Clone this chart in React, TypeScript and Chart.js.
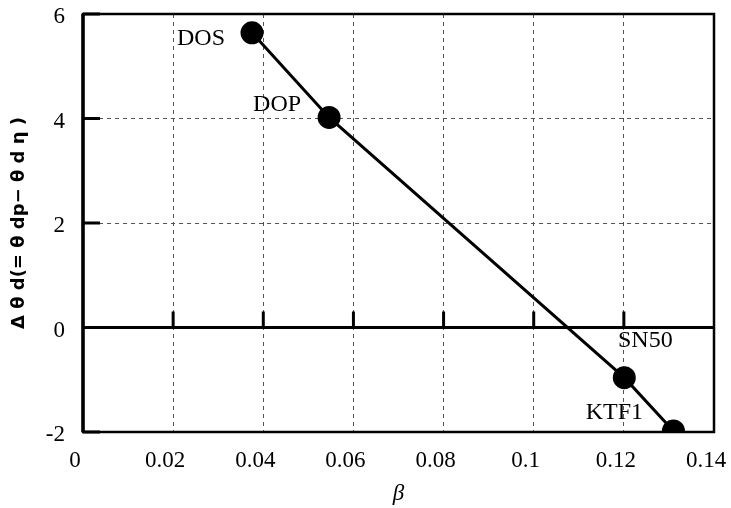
import React, { useEffect, useRef } from "react";
import { Chart, registerables } from "chart.js";

Chart.register(...registerables);

const pointNames = ["DOS", "DOP", "SN50", "KTF1"];
const betaValues = [0.0375, 0.0546, 0.1201, 0.131];
const deltaValues = [5.64, 4.02, -0.96, -1.98];
const xTickValues = [0, 0.02, 0.04, 0.06, 0.08, 0.1, 0.12, 0.14];
const yTickValues = [-2, 0, 2, 4, 6];
const xTitle = "β";
const yTitle = "Δ θ d(= θ dp− θ d η )";

const labelOffsets: Record<string, [number, number]> = {
  DOS: [-51, 6],
  DOP: [-52, -13],
  SN50: [21, -37],
  KTF1: [-59, -18],
};

const framePlugin = {
  id: "frame",
  beforeDatasetsDraw(chart: any) {
    const { ctx, chartArea: a, scales } = chart;
    const xs = scales.x;
    const ys = scales.y;
    ctx.save();
    ctx.strokeStyle = "#000";
    ctx.setLineDash([]);
    const y0 = ys.getPixelForValue(0);
    ctx.lineWidth = 3;
    ctx.beginPath();
    ctx.moveTo(a.left, y0);
    ctx.lineTo(a.right, y0);
    ctx.stroke();
    xTickValues.forEach((v) => {
      if (v <= 0 || v >= 0.14) return;
      const x = xs.getPixelForValue(v);
      ctx.beginPath();
      ctx.moveTo(x, y0);
      ctx.lineTo(x, y0 - 16);
      ctx.stroke();
    });
    yTickValues.forEach((v) => {
      const y = ys.getPixelForValue(v);
      ctx.beginPath();
      ctx.moveTo(a.left, y);
      ctx.lineTo(a.left + 17, y);
      ctx.stroke();
    });
    ctx.lineWidth = 2.5;
    ctx.strokeRect(a.left, a.top, a.right - a.left, a.bottom - a.top);
    ctx.lineWidth = 3.5;
    ctx.beginPath();
    ctx.moveTo(a.left, a.top);
    ctx.lineTo(a.left, a.bottom);
    ctx.stroke();
    ctx.restore();
  },
  afterDatasetsDraw(chart: any) {
    const { ctx, scales } = chart;
    ctx.save();
    ctx.fillStyle = "#000";
    ctx.font = "24px 'Liberation Serif'";
    ctx.textAlign = "center";
    ctx.textBaseline = "middle";
    pointNames.forEach((n, i) => {
      const x = scales.x.getPixelForValue(betaValues[i]);
      const y = scales.y.getPixelForValue(deltaValues[i]);
      const off = labelOffsets[n];
      ctx.fillText(n, x + off[0], y + off[1]);
    });
    ctx.restore();
  },
};

export default function App() {
  const ref = useRef<HTMLCanvasElement>(null);
  useEffect(() => {
    if (!ref.current) return;
    const chart = new Chart(ref.current, {
      type: "scatter",
      data: {
        datasets: [
          {
            data: betaValues.map((b, i) => ({ x: b, y: deltaValues[i] })),
            showLine: true,
            borderColor: "#000",
            backgroundColor: "#000",
            borderWidth: 3,
            pointRadius: 10,
            pointBackgroundColor: "#000",
            pointBorderColor: "#000",
          },
        ],
      },
      options: {
        animation: false,
        responsive: false,
        maintainAspectRatio: false,
        layout: { padding: { left: 0, top: 14, right: 17, bottom: 0 } },
        plugins: { legend: { display: false }, tooltip: { enabled: false } },
        scales: {
          x: {
            type: "linear",
            min: 0,
            max: 0.14,
            afterBuildTicks: (s: any) => {
              s.ticks = xTickValues.map((v) => ({ value: v }));
            },
            afterFit: (s: any) => {
              s.height = 76;
              s.paddingLeft = 0;
              s.paddingRight = 0;
            },
            ticks: {
              color: "#000",
              font: { family: "'Liberation Serif'", size: 23 },
              padding: 15,
              labelOffset: -8,
              maxRotation: 0,
              callback: (v: any) => String(Number(Number(v).toFixed(2))),
            },
            grid: {
              color: "#555",
              lineWidth: 1,
              drawTicks: false,
            },
            border: { display: false, dash: [4, 4] },
            title: {
              display: true,
              text: xTitle,
              color: "#000",
              font: { family: "'Liberation Serif'", size: 23, style: "italic" },
              padding: { top: 0, bottom: 0 },
            },
          },
          y: {
            type: "linear",
            min: -2,
            max: 6,
            afterBuildTicks: (s: any) => {
              s.ticks = yTickValues.map((v) => ({ value: v }));
            },
            afterFit: (s: any) => {
              s.width = 83;
              s.paddingTop = 0;
              s.paddingBottom = 0;
            },
            ticks: {
              color: "#000",
              font: { family: "'Liberation Serif'", size: 23 },
              padding: 18,
              labelOffset: 3,
            },
            grid: {
              color: "#555",
              lineWidth: 1,
              drawTicks: false,
            },
            border: { display: false, dash: [4, 4] },
            title: {
              display: true,
              text: yTitle,
              color: "#000",
              font: { family: "'DejaVu Sans'", size: 18, weight: "bold" },
              padding: { top: 9, bottom: 0 },
            },
          },
        },
      },
      plugins: [framePlugin],
    });
    return () => chart.destroy();
  }, []);
  return (
    <div style={{ position: "fixed", left: 0, top: 0, width: 731, height: 508, background: "#fff" }}>
      <canvas ref={ref} width={731} height={508} style={{ width: 731, height: 508 }} />
    </div>
  );
}
